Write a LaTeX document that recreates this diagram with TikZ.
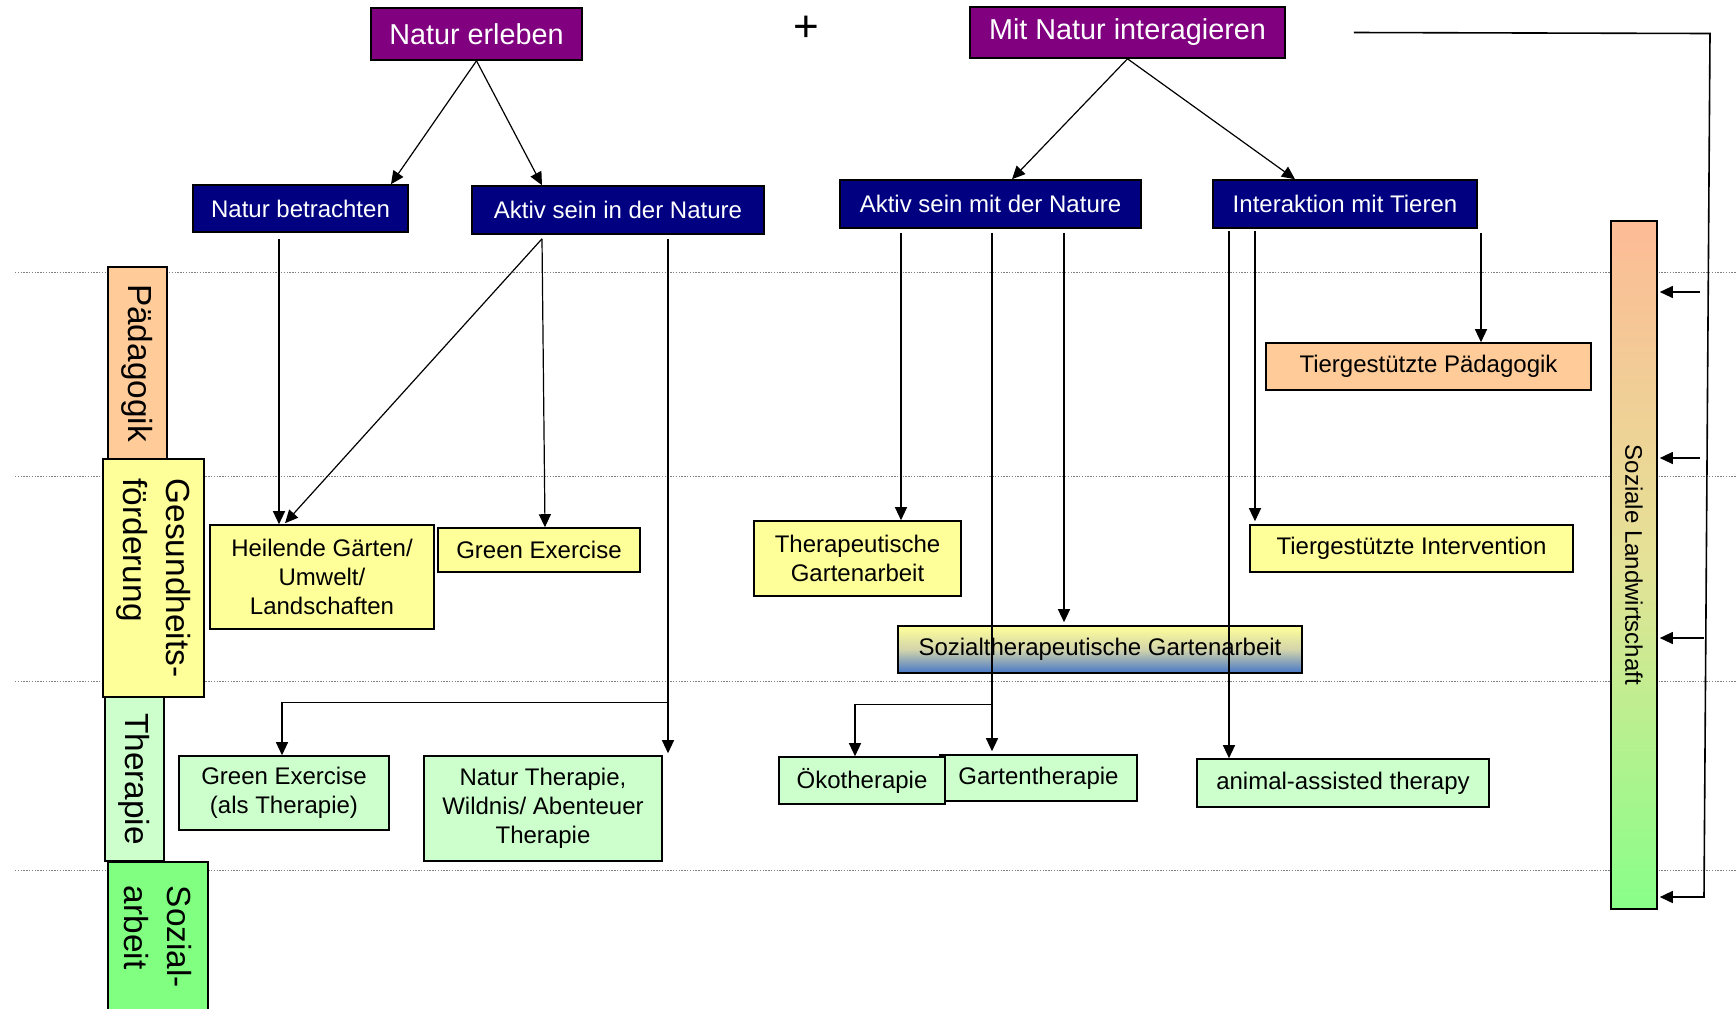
\documentclass[tikz,border=0pt]{standalone}
\usepackage{fontspec}
\setmainfont{Liberation Sans}
\usetikzlibrary{calc,arrows.meta}
\definecolor{navy}{RGB}{0,0,128}
\definecolor{purp}{RGB}{128,0,128}
\definecolor{yel}{RGB}{255,255,153}
\definecolor{peach}{RGB}{255,204,153}
\definecolor{lgreen}{RGB}{204,255,204}
\definecolor{sgreen}{RGB}{128,255,128}
\definecolor{salm}{RGB}{253,187,150}
\definecolor{midy}{RGB}{228,226,150}
\definecolor{barg}{RGB}{136,255,136}
\definecolor{midb}{RGB}{210,212,170}
\definecolor{blu}{RGB}{70,118,200}
\begin{document}
\begin{tikzpicture}[x=0.5pt,y=-0.5pt,
  box/.style={draw=black, line width=0.8pt, inner sep=0pt, align=center, font=\fontsize{12}{14.4}\selectfont},
  sz/.style 2 args={minimum width=#1*0.5pt, minimum height=#2*0.5pt},
  topbox/.style={box, fill=purp, text=white, font=\fontsize{14.4}{17}\selectfont},
  bluebox/.style={box, fill=navy, text=white},
  ybox/.style={box, fill=yel},
  gbox/.style={box, fill=lgreen},
  pbox/.style={box, fill=peach},
  catbox/.style={box, rotate=-90, align=left, font=\fontsize{16.7}{21.5}\selectfont},
  arr/.style={-{Triangle[length=6.5pt,width=6pt]}, line width=0.6pt, black},
  dots/.style={gray, line width=0.5pt, dash pattern=on 0.7pt off 0.7pt}]
\useasboundingbox (0,0) rectangle (1736,1008);
% dotted level lines
\draw[dots] (15,272) -- (1736,272);
\draw[dots] (15,476) -- (1736,476);
\draw[dots] (15,681) -- (1736,681);
\draw[dots] (15,870) -- (1736,870);
% top row
\node[topbox, sz={211}{52}] (nerleben) at (476.5,34) {Natur erleben};
\node[topbox, sz={315}{51}] (mitnatur) at (1127.5,32.5) {Mit Natur interagieren};
\node[inner sep=0pt, font=\fontsize{22}{22}\selectfont] (plus) at (806,29) {+};
% blue row
\node[bluebox, sz={215}{47}] (nbetr) at (300.5,208.5) {Natur betrachten};
\node[bluebox, sz={292}{48}] (aktivin) at (618,210) {Aktiv sein in der Nature};
\node[bluebox, sz={301}{48}] (aktivmit) at (990.5,204) {Aktiv sein mit der Nature};
\node[bluebox, sz={264}{48}] (interakt) at (1345,204) {Interaktion mit Tieren};
% category labels
\node[catbox, fill=peach, sz={192}{59}] (paed) at (137.5,363) {Pädagogik};
\node[catbox, fill=yel, sz={238}{101}] (gesund) at (153.5,578) {Gesundheits-\\förderung};
\node[catbox, fill=lgreen, sz={164}{59}] (ther) at (134.5,779) {Therapie};
\node[catbox, fill=sgreen, sz={150}{100}] (sozial) at (158,937) {Sozial-\\arbeit};
% content boxes
\node[pbox, sz={325}{47}] (tpaed) at (1428.5,366.5) {Tiergestützte Pädagogik};
\node[ybox, sz={224}{104}] (heil) at (322,577) {Heilende Gärten/\\Umwelt/\\Landschaften};
\node[ybox, sz={202}{44}] (greenex) at (539,550) {Green Exercise};
\node[ybox, sz={207}{75}] (thgart) at (857.5,558.5) {Therapeutische\\Gartenarbeit};
\node[ybox, sz={323}{47}] (tint) at (1411.5,548.5) {Tiergestützte Intervention};
\node[box, sz={404}{47}, top color=yel, bottom color=blu, middle color=midb] (sozth) at (1100,649.5) {Sozialtherapeutische Gartenarbeit};
\node[gbox, sz={210}{74}] (greenth) at (284,793) {Green Exercise\\(als Therapie)};
\node[gbox, sz={238}{105}] (naturth) at (543,808.5) {Natur Therapie,\\Wildnis/ Abenteuer\\Therapie};
\node[gbox, sz={197}{46}] (gartenth) at (1038.5,778) {Gartentherapie};
\node[gbox, sz={166}{47}] (oeko) at (862,780.5) {Ökotherapie};
\node[gbox, sz={292}{48}] (animal) at (1343,783) {animal-assisted therapy};
\node[box, sz={46}{688}, top color=salm, bottom color=barg, middle color=midy] (bar) at (1634,565) {\rotatebox{-90}{Soziale Landwirtschaft}};
% connectors from top row
\draw[arr] (nerleben.south) -- ($(nbetr.north)+(90.5,0)$);
\draw[arr] (nerleben.south) -- ($(aktivin.north)+(-76,0)$);
\draw[arr] (mitnatur.south) -- ($(aktivmit.north)+(21.5,0)$);
\draw[arr] (mitnatur.south) -- ($(interakt.north)+(-50,0)$);
% from Natur betrachten
\coordinate (s1) at ($(nbetr.south)+(-21.5,6)$);
\draw[arr] (s1) -- (s1 |- heil.north);
% from Aktiv sein in der Nature
\coordinate (a1) at ($(aktivin.south)+(-76,4)$);
\draw[arr] (a1) -- ($(heil.north)+(-37,-1)$);
\draw[arr] (a1) -- ($(greenex.north)+(6,0)$);
\coordinate (a2) at ($(aktivin.south)+(50,4)$);
\draw[arr] (a2) -- ($(a2 |- naturth.north)+(0,-2)$);
\coordinate (b1) at ($(a2)+(0,464)$);
\draw[arr] (b1) -| ($(greenth.north)+(-2,0)$);
% from Aktiv sein mit der Nature
\coordinate (m1) at ($(aktivmit.south)+(-89.5,4)$);
\draw[arr] (m1) -- (m1 |- thgart.north);
\coordinate (m2) at ($(aktivmit.south)+(1.5,4)$);
\draw[arr] (m2) -- ($(m2 |- gartenth.north)+(0,-3)$);
\coordinate (b2) at ($(m2)+(0,472)$);
\draw[arr] (b2) -| ($(oeko.north)+(-7,0)$);
\coordinate (m3) at ($(aktivmit.south)+(73.5,4)$);
\draw[arr] (m3) -- ($(m3 |- sozth.north)+(0,-3)$);
% from Interaktion mit Tieren
\coordinate (t1) at ($(interakt.south)+(-116,2)$);
\draw[arr] (t1) -- (t1 |- animal.north);
\coordinate (t2) at ($(interakt.south)+(-90,2)$);
\draw[arr] (t2) -- ($(t2 |- tint.north)+(0,-3)$);
\coordinate (t3) at ($(interakt.south)+(136,4)$);
\draw[arr] (t3) -- (t3 |- tpaed.north);
% right side bracket to Soziale Landwirtschaft
\coordinate (r0) at ($(mitnatur.east)+(68,0)$);
\coordinate (r1) at (1710,33.5);
\coordinate (r2) at (1704,897);
\draw[arr, line width=0.8pt] (r0) -- (r1) -- (r2) -- ($(r2 -| bar.east)+(2,0)$);
\coordinate (h1) at (1700,292);
\coordinate (h2) at (1700,458);
\coordinate (h3) at (1704,638);
\draw[arr] (h1) -- ($(h1 -| bar.east)+(2,0)$);
\draw[arr] (h2) -- ($(h2 -| bar.east)+(2,0)$);
\draw[arr] (h3) -- ($(h3 -| bar.east)+(2,0)$);
\end{tikzpicture}
\end{document}
